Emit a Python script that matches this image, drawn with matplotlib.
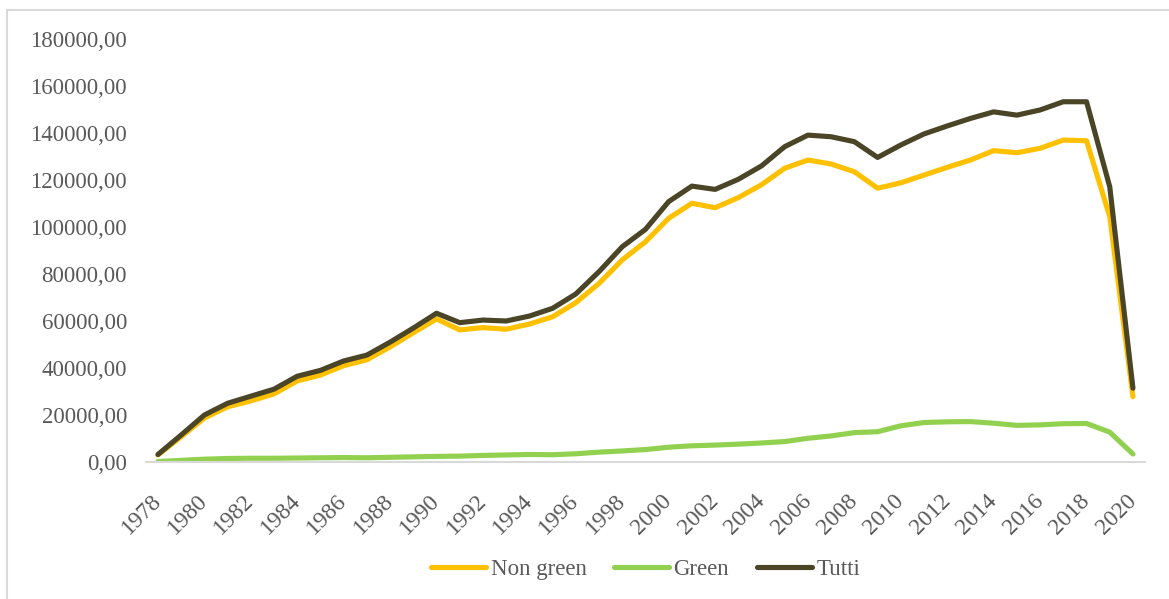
import numpy as np
import matplotlib.pyplot as plt
from matplotlib.patches import Rectangle

# Data
years = np.arange(1978, 2021)

non_green = [3000, 10800, 18700, 23500, 26000, 29000, 34500, 37000, 41000, 43500,
             49000, 55000, 60900, 56200, 57200, 56500, 58700, 61800, 67800, 76000,
             86000, 93700, 103700, 110100, 108200, 112500, 118000, 125000, 128500, 126800,
             123500, 116500, 118800, 122100, 125400, 128500, 132500, 131600, 133500, 137000,
             136700, 104400, 27800]

green = [200, 700, 1200, 1500, 1600, 1600, 1700, 1800, 1900, 1800,
         2000, 2200, 2400, 2500, 2800, 3000, 3200, 3100, 3500, 4200,
         4700, 5300, 6300, 6900, 7200, 7600, 8100, 8700, 10100, 11100,
         12500, 12900, 15400, 16800, 17100, 17200, 16500, 15600, 15800, 16300,
         16400, 12700, 3400]

tutti = [3200, 11500, 20000, 25000, 28000, 31000, 36500, 39000, 43000, 45500,
         51000, 57000, 63300, 59300, 60400, 60000, 62100, 65400, 71500, 81000,
         91600, 99000, 110800, 117400, 116000, 120300, 126000, 134200, 139100, 138400,
         136300, 129600, 134900, 139600, 143000, 146200, 149000, 147600, 149800, 153300,
         153300, 117100, 31400]

plt.rcParams['font.family'] = 'Liberation Serif'
text_color = '#595959'

fig = plt.figure(figsize=(11.69, 5.99), dpi=100)
ax = fig.add_axes([0.1252, 0.2287, 0.9791 - 0.1252, 0.9349 - 0.2287])

style = dict(lw=3.7, solid_capstyle='round', solid_joinstyle='round')
ax.plot(years, non_green, color='#FFC000', label='Non green', **style)
ax.plot(years, green, color='#92D050', label='Green', **style)
ax.plot(years, tutti, color='#4A4526', label='Tutti', **style)

ax.set_xlim(1977.5, 2020.5)
ax.set_ylim(0, 180000)
ax.set_yticks(np.arange(0, 180001, 20000))
ax.set_yticklabels([f'{v},00' for v in range(0, 180001, 20000)])
ax.set_xticks(years[::2])
ax.set_xticklabels([str(y) for y in years[::2]], rotation=45, ha='right',
                   va='center', rotation_mode='anchor')

for s in ['top', 'right', 'left']:
    ax.spines[s].set_visible(False)
ax.spines['bottom'].set_color('#D9D9D9')
ax.spines['bottom'].set_linewidth(1.5)
ax.tick_params(axis='both', length=0, labelsize=16.5, colors=text_color)
ax.tick_params(axis='y', pad=14)
ax.tick_params(axis='x', pad=26, labelsize=17)

leg = ax.legend(loc='center', bbox_to_anchor=(0.5, -0.255), ncol=3, frameon=False,
                fontsize=16.5, handlelength=2.4, handletextpad=0.2, columnspacing=1.2)
for t in leg.get_texts():
    t.set_color(text_color)

# light border around the chart area
fig.patches.append(Rectangle((7 / 1169, -0.1), 1.2, 1 - 10 / 599 + 0.1,
                             transform=fig.transFigure, fill=False,
                             edgecolor='#D9D9D9', lw=1.5))

fig.savefig('out.png', dpi=100)
